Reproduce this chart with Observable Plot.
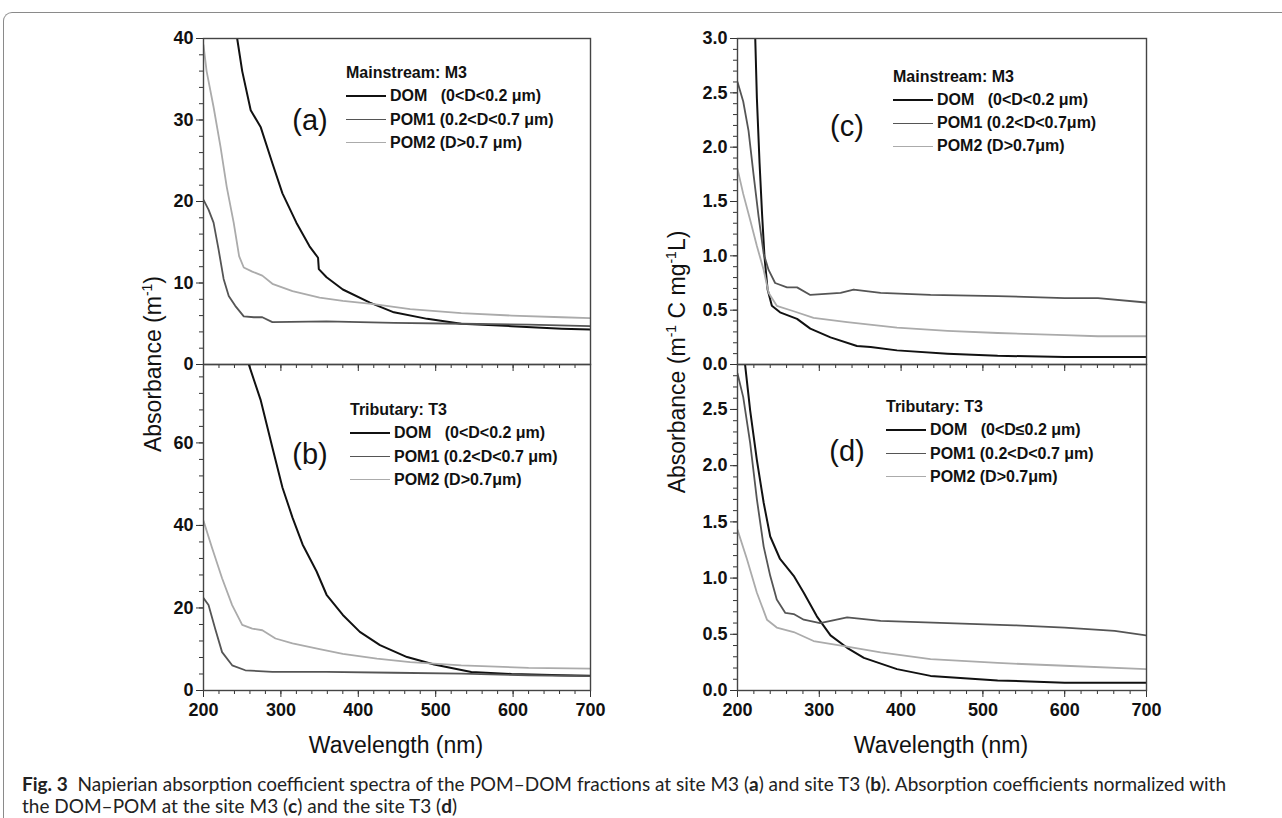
<!DOCTYPE html>
<html>
<head>
<meta charset="utf-8">
<script src="https://cdn.jsdelivr.net/npm/d3@7"></script>
<script src="https://cdn.jsdelivr.net/npm/@observablehq/plot@0.6"></script>
<style>
  html, body { margin: 0; padding: 0; background: #fff; }
  #fig { position: relative; width: 1282px; height: 818px; overflow: hidden; background: #fff; font-family: "Liberation Sans", Arial, sans-serif; }
  .panel { position: absolute; }
  .frameBox { position: absolute; left: 3px; top: 12px; width: 1300px; height: 900px; border-top: 1.5px solid #8a8a8a; border-left: 1.5px solid #8a8a8a; border-top-left-radius: 9px; box-sizing: border-box; }
  .ylab { position: absolute; font-family: "Liberation Sans", Arial, sans-serif; font-size: 23px; color: #111; white-space: nowrap; transform: translate(-50%, -50%) rotate(-90deg); }
  .xlab { position: absolute; font-family: "Liberation Sans", Arial, sans-serif; font-size: 23px; color: #111; white-space: nowrap; transform: translate(-50%, -50%); }
  .ylab sup, .xlab sup { font-size: 14px; vertical-align: 9px; line-height: 0; }
  .plabel { position: absolute; font-family: "Liberation Sans", Arial, sans-serif; font-size: 29px; color: #111; transform: translate(-50%, -50%); }
  .leg { position: absolute; font-family: "Liberation Sans", Arial, sans-serif; font-weight: bold; font-size: 16px; color: #111; white-space: pre; }
  .legrow { position: absolute; left: 0; white-space: pre; display: flex; align-items: center; transform: translateY(-50%); }
  .legline { display: inline-block; width: 40px; height: 0; margin-right: 4px; }
  .caption { position: absolute; font-family: Lato, "Open Sans", sans-serif; font-size: 18px; line-height: 1; color: #222; white-space: nowrap; transform: translateY(-50%); }
</style>
</head>
<body>
<div id="fig"></div>
<script>
// ---------------- data ----------------
const seriesNames = ["DOM", "POM1", "POM2"];
const seriesColors = ["#111111", "#555555", "#ababab"];
const seriesWidths = [2, 1.8, 1.8];

const wavelengthTicks = [200, 300, 400, 500, 600, 700];

// Panel (a) Mainstream M3, absorbance (m^-1)
const a_DOM_wl = [235, 243.5, 250, 261, 274, 289, 302, 320, 337, 348, 349, 359, 380, 415, 446, 489, 533, 598, 663, 700];
const a_DOM_v  = [46, 40, 36.0, 31.2, 29.1, 24.7, 21.0, 17.4, 14.5, 13.1, 11.7, 10.7, 9.2, 7.6, 6.4, 5.6, 5.0, 4.7, 4.4, 4.3];
const a_POM1_wl = [200, 206.5, 213, 219.5, 226, 232.6, 241, 252, 265, 276, 289, 359, 446, 533, 620, 700];
const a_POM1_v  = [20.2, 19.0, 17.4, 14.1, 10.5, 8.4, 7.2, 5.9, 5.8, 5.8, 5.2, 5.3, 5.1, 5.0, 4.9, 4.7];
const a_POM2_wl = [200, 204, 213, 222, 230, 239, 246, 252, 263, 276, 289, 315, 350, 380, 420, 467, 533, 598, 663, 700];
const a_POM2_v  = [39.2, 36, 31.6, 26.7, 21.8, 17.4, 13.3, 11.9, 11.4, 10.9, 9.9, 9.0, 8.2, 7.8, 7.4, 6.8, 6.3, 6.0, 5.8, 5.7];

// Panel (b) Tributary T3, absorbance (m^-1)
const b_DOM_wl = [245, 258.7, 274, 289, 302, 315, 328, 346, 359, 380, 402, 428, 463, 498, 546, 598, 663, 700];
const b_DOM_v  = [90, 78.9, 70.3, 58.9, 49.2, 41.9, 35.4, 28.9, 23.2, 18.3, 14.2, 11.0, 8.1, 6.3, 4.5, 4.0, 3.7, 3.6];
const b_POM1_wl = [200, 206.5, 215, 224, 237, 254, 289, 359, 446, 533, 620, 700];
const b_POM1_v  = [22.4, 20.7, 15.0, 9.3, 6.1, 4.9, 4.5, 4.5, 4.3, 4.1, 3.7, 3.5];
const b_POM2_wl = [200, 211, 224, 237, 250, 263, 276, 293, 315, 350, 380, 424, 467, 533, 620, 700];
const b_POM2_v  = [41.1, 34.6, 27.2, 20.7, 15.9, 15.0, 14.6, 12.6, 11.4, 10.0, 8.9, 7.7, 6.9, 6.1, 5.5, 5.3];

// Panel (c) Mainstream M3, normalized (m^-1 C mg^-1 L)
const c_DOM_wl = [215, 221.7, 223.7, 227, 230, 233, 236.8, 242, 252, 272.8, 289, 313.7, 346, 362.7, 395, 456.7, 518, 600, 700];
const c_DOM_v  = [3.4, 3.0, 2.45, 1.85, 1.39, 0.99, 0.69, 0.54, 0.48, 0.42, 0.33, 0.25, 0.17, 0.16, 0.13, 0.10, 0.08, 0.07, 0.07];
const c_POM1_wl = [200, 207, 213.5, 219.6, 225.8, 232, 238, 246, 260.5, 272.8, 289, 326, 342, 375, 436, 518, 600, 640.7, 700];
const c_POM1_v  = [2.6, 2.42, 2.15, 1.75, 1.36, 1.02, 0.87, 0.75, 0.71, 0.71, 0.64, 0.66, 0.69, 0.66, 0.64, 0.63, 0.61, 0.61, 0.57];
const c_POM2_wl = [200, 207, 215.5, 223.7, 232, 238, 248, 268.7, 293, 334, 395, 456.7, 518, 600, 640.7, 700];
const c_POM2_v  = [1.8, 1.57, 1.33, 1.09, 0.87, 0.66, 0.54, 0.49, 0.43, 0.39, 0.34, 0.31, 0.29, 0.27, 0.26, 0.26];

// Panel (d) Tributary T3, normalized (m^-1 C mg^-1 L)
const d_DOM_wl = [205, 209.4, 215.5, 223.7, 232, 240, 252, 268.7, 281, 297, 313.7, 334, 354.5, 395, 436, 518, 600, 700];
const d_DOM_v  = [3.1, 2.89, 2.49, 2.05, 1.67, 1.37, 1.17, 1.02, 0.87, 0.66, 0.49, 0.38, 0.29, 0.19, 0.13, 0.09, 0.07, 0.07];
const d_POM1_wl = [200, 207, 215.5, 223.7, 232, 240, 248, 258.5, 268.7, 281, 301, 334, 375, 456.7, 538.5, 600, 661, 700];
const d_POM1_v  = [2.82, 2.61, 2.2, 1.70, 1.28, 1.02, 0.81, 0.69, 0.68, 0.63, 0.60, 0.65, 0.62, 0.60, 0.58, 0.56, 0.53, 0.49];
const d_POM2_wl = [200, 211.5, 223.7, 236, 248, 268.7, 293, 334, 375, 436, 518, 600, 700];
const d_POM2_v  = [1.43, 1.17, 0.87, 0.63, 0.56, 0.52, 0.44, 0.39, 0.34, 0.28, 0.245, 0.22, 0.19];

// tick values
const yTicksA = [0, 10, 20, 30, 40];
const yTicksB = [0, 20, 40, 60];
const yTicksC = [0, 0.5, 1.0, 1.5, 2.0, 2.5, 3.0];
const yTicksD = [0, 0.5, 1.0, 1.5, 2.0, 2.5];

// legend texts
const legendA = ["DOM   (0<D<0.2 μm)", "POM1 (0.2<D<0.7 μm)", "POM2 (D>0.7 μm)"];
const legendB = ["DOM   (0<D<0.2 μm)", "POM1 (0.2<D<0.7 μm)", "POM2 (D>0.7μm)"];
const legendC = ["DOM   (0<D<0.2 μm)", "POM1 (0.2<D<0.7μm)", "POM2 (D>0.7μm)"];
const legendD = ["DOM   (0<D≤0.2 μm)", "POM1 (0.2<D<0.7 μm)", "POM2 (D>0.7μm)"];

// caption lines
const captionLines = [
  "<b>Fig. 3</b>&nbsp; Napierian absorption coefficient spectra of the POM–DOM fractions at site M3 (<b>a</b>) and site T3 (<b>b</b>). Absorption coefficients normalized with",
  "the DOM–POM at the site M3 (<b>c</b>) and the site T3 (<b>d</b>)"
];

// ---------------- helpers ----------------
function toRows(wl, v, name) { return wl.map((w, i) => ({wl: w, v: v[i], series: name})); }
function range(a, b, step) { const out = []; for (let t = a; t <= b + 1e-9; t += step) out.push(+t.toFixed(4)); return out; }

const fig = document.getElementById("fig");
const box = document.createElement("div"); box.className = "frameBox"; fig.appendChild(box);

function panel({left, top, right, bottom, yDomain, yMajor, yMinorStep, yFmt, xLabels, data}) {
  const svgLeft = left - 60, svgTop = top - 14, svgRight = right + 14, svgBottom = bottom + (xLabels ? 40 : 10);
  const yMinor = range(yDomain[0], yDomain[1], yMinorStep);
  const xMinor = range(200, 700, 20);
  const marks = [
    Plot.axisY(yMinor, {tickSize: 4, tickFormat: () => "", stroke: "#333"}),
    Plot.axisY(yMajor, {tickSize: 7, tickPadding: 3, tickFormat: yFmt, stroke: "#333"}),
    Plot.axisX(xMinor, {tickSize: 4, tickFormat: () => "", stroke: "#333"}),
    Plot.axisX(wavelengthTicks, {tickSize: 7, tickPadding: 6, tickFormat: xLabels ? d3.format("d") : () => "", stroke: "#333"}),
    ...data.map((rows, i) => Plot.line(rows, {x: "wl", y: "v", stroke: seriesColors[i], strokeWidth: seriesWidths[i], clip: true})),
    Plot.frame({stroke: "#444", strokeWidth: 1.4})
  ];
  const p = Plot.plot({
    width: svgRight - svgLeft,
    height: svgBottom - svgTop,
    marginLeft: left - svgLeft,
    marginRight: svgRight - right,
    marginTop: top - svgTop,
    marginBottom: svgBottom - bottom,
    x: {domain: [200, 700], label: null},
    y: {domain: yDomain, label: null},
    style: {fontFamily: "'Liberation Sans', Arial, sans-serif", fontSize: "18px", fontWeight: "bold", color: "#111", background: "transparent", overflow: "visible"},
    marks
  });
  p.classList.add("panel");
  p.style.left = svgLeft + "px";
  p.style.top = svgTop + "px";
  fig.appendChild(p);
}

const L = {x0: 203, x1: 590}, R = {x0: 737, x1: 1146};
const T = {y0: 38, y1: 364}, B = {y0: 364, y1: 690};

panel({left: L.x0, right: L.x1, top: T.y0, bottom: T.y1, yDomain: [0, 40], yMajor: yTicksA, yMinorStep: 2, yFmt: d3.format("d"), xLabels: false,
  data: [toRows(a_DOM_wl, a_DOM_v, "DOM"), toRows(a_POM1_wl, a_POM1_v, "POM1"), toRows(a_POM2_wl, a_POM2_v, "POM2")]});
panel({left: L.x0, right: L.x1, top: B.y0, bottom: B.y1, yDomain: [0, 79], yMajor: yTicksB, yMinorStep: 4, yFmt: d3.format("d"), xLabels: true,
  data: [toRows(b_DOM_wl, b_DOM_v, "DOM"), toRows(b_POM1_wl, b_POM1_v, "POM1"), toRows(b_POM2_wl, b_POM2_v, "POM2")]});
panel({left: R.x0, right: R.x1, top: T.y0, bottom: T.y1, yDomain: [0, 3], yMajor: yTicksC, yMinorStep: 0.1, yFmt: d3.format(".1f"), xLabels: false,
  data: [toRows(c_DOM_wl, c_DOM_v, "DOM"), toRows(c_POM1_wl, c_POM1_v, "POM1"), toRows(c_POM2_wl, c_POM2_v, "POM2")]});
panel({left: R.x0, right: R.x1, top: B.y0, bottom: B.y1, yDomain: [0, 2.9], yMajor: yTicksD, yMinorStep: 0.1, yFmt: d3.format(".1f"), xLabels: true,
  data: [toRows(d_DOM_wl, d_DOM_v, "DOM"), toRows(d_POM1_wl, d_POM1_v, "POM1"), toRows(d_POM2_wl, d_POM2_v, "POM2")]});

// ---------------- axis titles ----------------
function addHTML(cls, html, x, y) { const d = document.createElement("div"); d.className = cls; d.innerHTML = html; d.style.left = x + "px"; d.style.top = y + "px"; fig.appendChild(d); return d; }
addHTML("ylab", "Absorbance (m<sup>-1</sup>)", 153, 364);
addHTML("ylab", "Absorbance (m<sup>-1</sup> C mg<sup>-1</sup>L)", 677, 362);
addHTML("xlab", "Wavelength (nm)", 396, 745);
addHTML("xlab", "Wavelength (nm)", 941, 745);

// panel letters
addHTML("plabel", "(a)", 310, 120);
addHTML("plabel", "(b)", 310, 454);
addHTML("plabel", "(c)", 847, 126);
addHTML("plabel", "(d)", 847, 451);

// ---------------- legends ----------------
function legend(title, labels, x, y0, step) {
  const g = document.createElement("div"); g.className = "leg"; g.style.left = x + "px"; g.style.top = y0 + "px";
  const t = document.createElement("div"); t.className = "legrow"; t.textContent = title; t.style.top = "0px"; g.appendChild(t);
  labels.forEach((lab, i) => {
    const r = document.createElement("div"); r.className = "legrow"; r.style.top = ((i + 1) * step) + "px";
    const ln = document.createElement("span"); ln.className = "legline"; ln.style.borderTop = seriesWidths[i] + "px solid " + seriesColors[i];
    const tx = document.createElement("span"); tx.textContent = lab;
    r.appendChild(ln); r.appendChild(tx); g.appendChild(r);
  });
  fig.appendChild(g);
}
legend("Mainstream: M3", legendA, 346, 73, 23.3);
legend("Tributary: T3", legendB, 350, 410, 23.3);
legend("Mainstream: M3", legendC, 893, 77, 23);
legend("Tributary: T3", legendD, 886, 407, 23.3);

// ---------------- caption ----------------
const cap1 = addHTML("caption", captionLines[0], 22, 783);
const cap2 = addHTML("caption", captionLines[1], 22, 805);
// fit the first caption line to the reference width (ends at ~x=1255)
const w1 = cap1.getBoundingClientRect().width;
const fs = Math.min(19, 18 * 1233 / w1);
cap1.style.fontSize = fs + "px";
cap2.style.fontSize = fs + "px";
</script>
</body>
</html>
